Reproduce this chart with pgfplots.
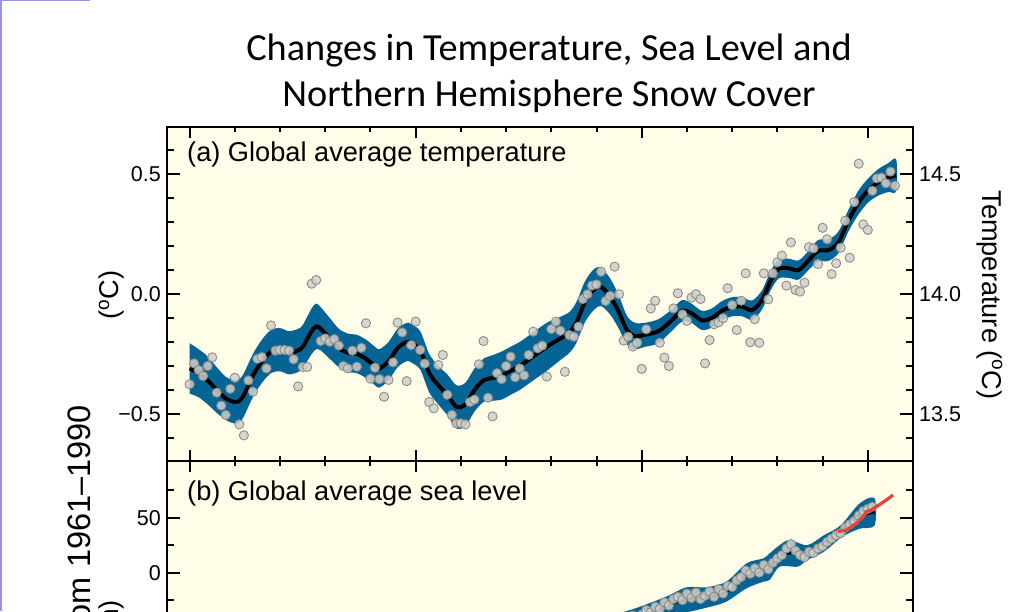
\documentclass[border=0pt]{standalone}
\usepackage{pgfplots}
\pgfplotsset{compat=1.18}
\usepackage{pgfplotstable}
\usepackage{fontspec}
\setmainfont{Liberation Sans}
\newfontfamily\titlefont{Carlito}
\definecolor{cream}{RGB}{255,253,232}
\definecolor{bandblue}{RGB}{5,100,150}
\definecolor{dotfill}{RGB}{205,208,205}
\definecolor{dotdraw}{RGB}{145,140,130}
\definecolor{redline}{RGB}{230,68,56}
\definecolor{edgecol}{RGB}{150,150,225}

% annual global temperature anomalies (deg C, rel. 1961-1990)
\pgfplotstableread{
year val
1850 -0.376
1851 -0.289
1852 -0.317
1853 -0.342
1854 -0.300
1855 -0.264
1856 -0.411
1857 -0.465
1858 -0.504
1859 -0.395
1860 -0.349
1861 -0.543
1862 -0.589
1863 -0.360
1864 -0.407
1865 -0.270
1866 -0.263
1867 -0.310
1868 -0.131
1869 -0.236
1870 -0.233
1871 -0.233
1872 -0.236
1873 -0.272
1874 -0.385
1875 -0.304
1876 -0.304
1877 0.043
1878 0.058
1879 -0.196
1880 -0.185
1881 -0.199
1882 -0.188
1883 -0.215
1884 -0.300
1885 -0.310
1886 -0.236
1887 -0.303
1888 -0.224
1889 -0.122
1890 -0.353
1891 -0.307
1892 -0.355
1893 -0.428
1894 -0.358
1895 -0.285
1896 -0.119
1897 -0.160
1898 -0.363
1899 -0.213
1900 -0.115
1901 -0.233
1902 -0.290
1903 -0.450
1904 -0.476
1905 -0.296
1906 -0.254
1907 -0.420
1908 -0.504
1909 -0.539
1910 -0.539
1911 -0.543
1912 -0.450
1913 -0.440
1914 -0.293
1915 -0.196
1916 -0.432
1917 -0.510
1918 -0.330
1919 -0.355
1920 -0.300
1921 -0.261
1922 -0.347
1923 -0.310
1924 -0.339
1925 -0.254
1926 -0.157
1927 -0.226
1928 -0.215
1929 -0.344
1930 -0.146
1931 -0.115
1932 -0.153
1933 -0.324
1934 -0.171
1935 -0.178
1936 -0.136
1937 -0.021
1938 -0.001
1939 0.035
1940 0.040
1941 0.093
1942 -0.029
1943 -0.008
1944 0.114
1945 -0.001
1946 -0.194
1947 -0.178
1948 -0.219
1949 -0.203
1950 -0.312
1951 -0.147
1952 -0.060
1953 -0.028
1954 -0.203
1955 -0.265
1956 -0.300
1957 -0.060
1958 0.003
1959 -0.085
1960 -0.112
1961 -0.015
1962 -0.001
1963 -0.021
1964 -0.289
1965 -0.192
1966 -0.126
1967 -0.118
1968 -0.101
1969 0.024
1970 -0.046
1971 -0.150
1972 -0.028
1973 0.086
1974 -0.201
1975 -0.105
1976 -0.203
1977 0.086
1978 -0.022
1979 0.086
1980 0.132
1981 0.160
1982 0.035
1983 0.215
1984 0.017
1985 0.010
1986 0.047
1987 0.195
1988 0.190
1989 0.125
1990 0.276
1991 0.228
1992 0.083
1993 0.128
1994 0.193
1995 0.305
1996 0.151
1997 0.383
1998 0.543
1999 0.290
2000 0.267
2001 0.430
2002 0.482
2003 0.485
2004 0.461
2005 0.510
2006 0.451
}\tempdots

% smoothed temperature curve
\pgfplotstableread{
year c
1850 -0.310
1852 -0.330
1854 -0.360
1856 -0.400
1858 -0.435
1860 -0.450
1861 -0.445
1862 -0.420
1864 -0.340
1866 -0.280
1868 -0.240
1870 -0.232
1872 -0.245
1874 -0.235
1875 -0.220
1877 -0.155
1878 -0.135
1879 -0.145
1881 -0.185
1883 -0.225
1885 -0.245
1887 -0.250
1889 -0.270
1891 -0.300
1892 -0.310
1894 -0.280
1896 -0.225
1898 -0.200
1899 -0.205
1901 -0.235
1903 -0.330
1905 -0.380
1907 -0.420
1909 -0.470
1911 -0.460
1913 -0.400
1915 -0.360
1917 -0.350
1919 -0.340
1921 -0.320
1923 -0.300
1926 -0.260
1929 -0.220
1932 -0.185
1934 -0.160
1935.5 -0.120
1937.5 -0.030
1939.5 0.020
1941 0.030
1943 -0.010
1944.8 -0.070
1946.7 -0.150
1948.5 -0.175
1950.7 -0.170
1953.7 -0.155
1956.6 -0.110
1958.9 -0.070
1961 -0.080
1963.3 -0.110
1965.5 -0.100
1967.7 -0.070
1970 -0.053
1972.2 -0.053
1974.4 -0.067
1976.6 -0.025
1978.5 0.055
1980.3 0.105
1982.5 0.107
1984.7 0.100
1986.9 0.140
1989 0.180
1991.3 0.183
1993.5 0.215
1995.7 0.305
1997.9 0.380
2000 0.430
2002.3 0.465
2004.5 0.485
2006.3 0.495
}\tempcurve

% uncertainty band outline: upper edge forward, lower edge back
\pgfplotstableread{
year v
1850 -0.205
1852 -0.230
1854 -0.260
1856 -0.305
1858 -0.345
1860 -0.360
1861 -0.355
1862 -0.330
1864 -0.250
1866 -0.190
1868 -0.150
1870 -0.142
1872 -0.155
1874 -0.145
1875 -0.130
1877 -0.060
1878 -0.040
1879 -0.055
1881 -0.100
1883 -0.145
1885 -0.165
1887 -0.170
1889 -0.190
1891 -0.220
1892 -0.230
1894 -0.200
1896 -0.145
1898 -0.120
1899 -0.125
1901 -0.155
1903 -0.250
1905 -0.300
1907 -0.335
1909 -0.380
1911 -0.370
1913 -0.310
1915 -0.270
1917 -0.255
1919 -0.240
1921 -0.220
1923 -0.200
1926 -0.160
1929 -0.120
1932 -0.095
1934 -0.075
1935.5 -0.035
1937.5 0.055
1939.5 0.105
1941 0.110
1943 0.065
1944.8 0.000
1946.7 -0.090
1948.5 -0.120
1950.7 -0.120
1953.7 -0.105
1956.6 -0.065
1958.9 -0.025
1961 -0.040
1963.3 -0.070
1965.5 -0.060
1967.7 -0.030
1970 -0.013
1972.2 -0.013
1974.4 -0.027
1976.6 0.015
1978.5 0.095
1980.3 0.145
1982.5 0.147
1984.7 0.140
1986.9 0.180
1989 0.225
1991.3 0.228
1993.5 0.260
1995.7 0.350
1997.9 0.430
2000 0.480
2002.3 0.520
2004.5 0.545
2006.3 0.560
2006.3 0.430
2004.5 0.425
2002.3 0.410
2000 0.380
1997.9 0.330
1995.7 0.260
1993.5 0.170
1991.3 0.138
1989 0.135
1986.9 0.100
1984.7 0.060
1982.5 0.067
1980.3 0.065
1978.5 0.015
1976.6 -0.065
1974.4 -0.107
1972.2 -0.093
1970 -0.093
1967.7 -0.110
1965.5 -0.140
1963.3 -0.150
1961 -0.120
1958.9 -0.115
1956.6 -0.155
1953.7 -0.205
1950.7 -0.220
1948.5 -0.230
1946.7 -0.210
1944.8 -0.140
1943 -0.085
1941 -0.050
1939.5 -0.065
1937.5 -0.115
1935.5 -0.205
1934 -0.245
1932 -0.275
1929 -0.320
1926 -0.360
1923 -0.400
1921 -0.420
1919 -0.440
1917 -0.445
1915 -0.450
1913 -0.490
1911 -0.550
1909 -0.560
1907 -0.505
1905 -0.460
1903 -0.410
1901 -0.315
1899 -0.285
1898 -0.280
1896 -0.305
1894 -0.360
1892 -0.390
1891 -0.380
1889 -0.350
1887 -0.330
1885 -0.325
1883 -0.305
1881 -0.270
1879 -0.235
1878 -0.230
1877 -0.250
1875 -0.310
1874 -0.325
1872 -0.335
1870 -0.322
1868 -0.330
1866 -0.370
1864 -0.430
1862 -0.510
1861 -0.535
1860 -0.540
1858 -0.525
1856 -0.495
1854 -0.460
1852 -0.430
1850 -0.415
}\tempband

% smoothed sea level (mm)
\pgfplotstableread{
year c
1940 -52
1945 -47
1949.6 -42
1955.4 -30
1960 -24
1964.3 -22
1968.7 -17
1973.2 -3
1976.9 2.4
1978.3 5.5
1980.5 15
1982.7 18
1986.6 18
1990.3 26.5
1994 38
1998.2 51.5
2001.5 55
}\seacurve

% sea level band outline: upper edge forward, lower edge back
\pgfplotstableread{
year v
1940 -42
1945 -37
1949.6 -31
1955.4 -21.8
1959.9 -13.3
1964.3 -13.3
1968.7 -8.2
1973.2 8.5
1976.9 13
1978.3 17.6
1980.5 25
1982.7 29.7
1986.6 25
1990.3 34
1994 43
1998.2 63
2001.5 67.6
2001.5 43
1998.2 40
1994.4 32.7
1990.3 19
1986.6 11.5
1984.5 5.5
1980.5 5.5
1978.3 -6.6
1976.9 -8.2
1973.2 -14.2
1968.7 -26.4
1965.1 -31
1959 -37
1955.4 -40
1950 -53
1945 -58
1940 -62
}\seaband

% annual sea level values (mm)
\pgfplotstableread{
year val
1940 -55
1941 -50
1942 -54
1943 -48
1944 -46
1945 -45
1946 -48
1947 -42
1948 -39
1949 -43
1950 -38
1951 -34
1952 -36
1953 -31
1954 -33
1955 -27
1956 -30
1957 -24
1958 -22
1959 -25
1960 -19
1961 -23
1962 -18
1963 -24
1964 -21
1965 -17
1966 -22
1967 -15
1968 -19
1969 -12
1970 -13
1971 -7
1972 -4
1973 2
1974 -1
1975 4
1976 0
1977 7
1978 3
1979 9
1980 13
1981 16
1982 22
1983 26
1984 20
1985 16
1986 14
1987 19
1988 18
1989 22
1990 24
1991 28
1992 31
1993 34
1994 36
1995 41
1996 44
1997 47
1998 52
1999 56
2000 58
2001 60
}\seadots

% satellite altimetry (mm)
\pgfplotstableread{
year val
1993.4 37.3
1995.3 38.8
1996.4 41.8
1997.5 44.9
1998.2 47.9
1999.0 50.9
1999.7 55.5
2000.8 57
2001.9 60
2003.0 63
2004.1 66
2005.6 70.6
}\altimetry

\newcommand{\tickfont}{\fontsize{21.5}{24}\selectfont}
\newcommand{\labfont}{\fontsize{27.2}{30}\selectfont}

\pgfplotsset{
  panel/.style={
    at={(167pt,150pt)}, scale only axis, width=746pt,
    xmin=1845, xmax=2010,
    axis line style={line width=2pt},
    tick style={line width=2pt, black},
    tick align=inside,
  },
}

\begin{document}
\begin{tikzpicture}
\fill[white] (0,0) rectangle (1024pt,611pt);

% ---------------- panel (a) ----------------
\begin{axis}[panel, anchor=south west, height=334pt,
  ymin=-0.6958, ymax=0.6958,
  axis background/.style={fill=cream},
  xtick=\empty,
  ytick={-0.5,0,0.5}, yticklabels={−0.5,0.0,0.5},
  minor ytick={-0.6,-0.4,-0.3,-0.2,-0.1,0.1,0.2,0.3,0.4,0.6},
  ytick pos=both, yticklabel pos=left,
  major tick length=13pt, minor tick length=7pt,
  yticklabel style={font=\tickfont, inner sep=0pt, xshift=-6pt},
]
\addplot[fill=bandblue, draw=none, smooth] table[x=year,y=v]{\tempband};
\addplot[black, line width=4pt, smooth] table[x=year,y=c]{\tempcurve};
\addplot[only marks, mark=*, mark size=4.6pt,
  mark options={draw=dotdraw, fill=dotfill, line width=0.9pt, fill opacity=0.85}]
  table[x=year,y=val]{\tempdots};
\end{axis}

% right-hand temperature scale
\begin{axis}[panel, anchor=south west, height=334pt,
  ymin=13.3042, ymax=14.6958,
  hide x axis, axis y line*=right,
  ytick={13.5,14,14.5}, yticklabels={13.5,14.0,14.5},
  major tick length=0pt, minor tick length=0pt,
  y axis line style={draw=none},
  yticklabel style={font=\tickfont, inner sep=0pt, xshift=6pt},
]
\addplot[draw=none] coordinates {(1900,14.0) (1950,14.1)};
\end{axis}

% x ticks of panel (a)
\begin{axis}[panel, anchor=south west, height=334pt,
  ymin=0, ymax=1, hide y axis,
  xtick={1850,1900,1950,2000},
  minor xtick={1860,1870,1880,1890,1910,1920,1930,1940,1960,1970,1980,1990,2010},
  xtick pos=both, xticklabel={},
  major tick length=11pt, minor tick length=5pt,
]
\addplot[draw=none] coordinates {(1900,0.5) (1950,0.6)};
\end{axis}

% ---------------- panel (b) ----------------
\begin{axis}[panel, anchor=north west, height=331.65pt,
  ymin=-200, ymax=101.5,
  clip mode=individual,
  axis background/.style={fill=cream},
  xtick=\empty,
  ytick={0,50}, yticklabels={0,50},
  minor ytick={-175,-150,-125,-100,-75,-50,-25,25,75},
  ytick pos=both, yticklabel pos=left,
  major tick length=13pt, minor tick length=7pt,
  yticklabel style={font=\tickfont, inner sep=0pt, xshift=-6pt},
]
\addplot[fill=bandblue, draw=none, smooth] table[x=year,y=v]{\seaband};
\addplot[black, line width=3pt, smooth] table[x=year,y=c]{\seacurve};
\addplot[only marks, mark=*, mark size=4.6pt,
  mark options={draw=dotdraw, fill=dotfill, line width=0.9pt, fill opacity=0.85}]
  table[x=year,y=val]{\seadots};
\addplot[redline, line width=3.2pt] table[x=year,y=val]{\altimetry};
\end{axis}

% x ticks of panel (b)
\begin{axis}[panel, anchor=north west, height=331.65pt,
  ymin=0, ymax=1, hide y axis,
  xtick={1850,1900,1950,2000},
  minor xtick={1860,1870,1880,1890,1910,1920,1930,1940,1960,1970,1980,1990,2010},
  xtick pos=both, xticklabel={},
  major tick length=11pt, minor tick length=5pt,
]
\addplot[draw=none] coordinates {(1900,0.5) (1950,0.6)};
\end{axis}

% ---------------- texts ----------------
\node[font=\titlefont\fontsize{38.3}{46}\selectfont, anchor=base, inner sep=0]
  at (549pt,550pt) {Changes in Temperature, Sea Level and};
\node[font=\titlefont\fontsize{38.3}{46}\selectfont, anchor=base, inner sep=0]
  at (549pt,504pt) {Northern Hemisphere Snow Cover};
\node[font=\labfont, anchor=base west, inner sep=0] at (187pt,449pt)
  {(a) Global average temperature};
\node[font=\labfont, anchor=base west, inner sep=0] at (187pt,111pt)
  {(b) Global average sea level};
\node[font=\labfont, rotate=90, inner sep=0] at (111pt,316pt) {(\textsuperscript{o}C)};
\node[font=\labfont, rotate=-90, inner sep=0] at (990pt,316pt) {Temperature (\textsuperscript{o}C)};
\node[font=\labfont, rotate=90, anchor=east, inner sep=0] at (111pt,11pt) {(mm)};
\node[font=\fontsize{32.5}{38}\selectfont, rotate=90, anchor=east, inner sep=0]
  at (79pt,206pt) {Difference from 1961–1990};

\draw[edgecol, line width=2.5pt] (1pt,0) -- (1pt,611pt);
\draw[edgecol, line width=1.5pt] (0,610.3pt) -- (90pt,610.3pt);
\pgfresetboundingbox
\path[use as bounding box] (0,0) rectangle (1024pt,611pt);
\end{tikzpicture}
\end{document}
